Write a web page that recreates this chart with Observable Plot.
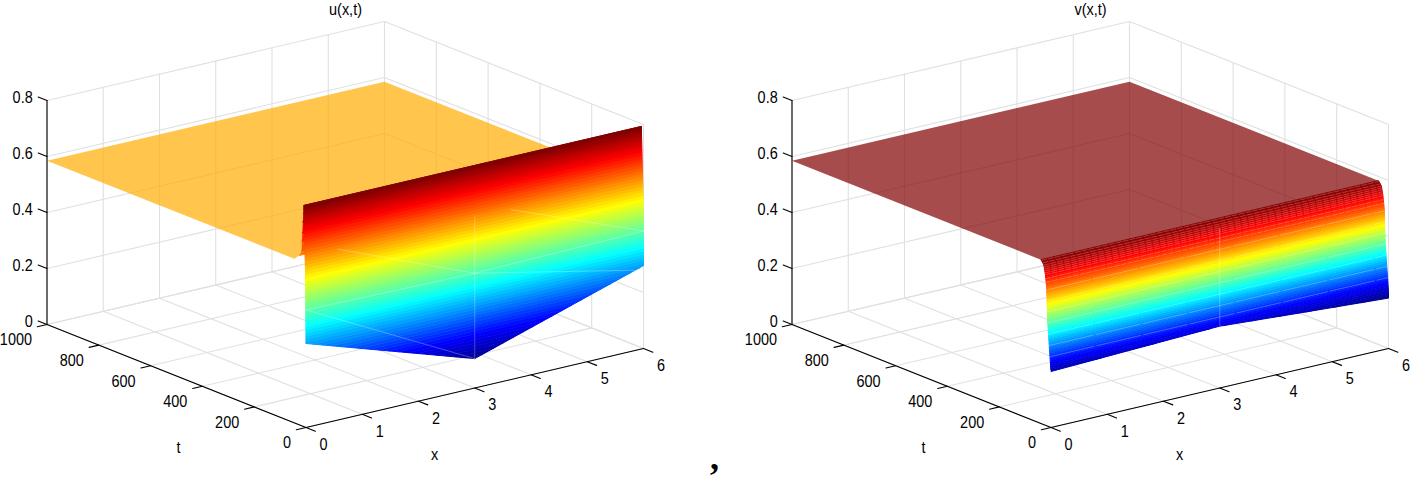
<!DOCTYPE html>
<html><head><meta charset="utf-8">
<script src="https://cdn.jsdelivr.net/npm/d3@7"></script>
<script src="https://cdn.jsdelivr.net/npm/@observablehq/plot@0.6"></script>
<style>html,body{margin:0;padding:0;background:#fff}svg{display:block}</style>
</head><body><div id="chart"></div>
<script>
// axis ticks
const xTicks = [0,1,2,3,4,5,6];
const tTicks = [0,200,400,600,800,1000];
const zTicks = [0,0.2,0.4,0.6,0.8];
const zTickLabels = ["0","0.2","0.4","0.6","0.8"];
const panelTitles = ["u(x,t)","v(x,t)"];
const panelOffsets = [0,745];

// x nodes of the initial-time edge (t = 0)
const edgeX = [0,3,6];
const uEdge = [0.30,0.105,0.296];
const vEdge = [0.20,0.22,0.18];

// the flat plateau outline, read along x = 0 / x = 6
const uPlateauT = [1000,45,26];
const uPlateauZ = [0.585,0.586,0.605];
const vPlateauT = [1000,39];
const vPlateauZ = [0.585,0.585];
// u falls back from its peak to the plateau
const uDecayT = [26,21,16.7,15.5,14,12,10,8.5];
const uDecayZ = [.605,.612,.626,.66,.69,.73,.76,.79];

// the steep wall: height of each colour band and the time it is reached
const uLevels = [.105,.116,.127,.138,.149,.160,.171,.182,.193,.204,.215,.226,.237,.248,.259,.270,.281,.292,.303,.314,.325,.336,.347,.358,.369,.380,.391,.402,.413,.424,.435,.446,.457,.468,.479,.490,.501,.512,.523,.534,.545,.556,.567,.578,.589,.600,.611,.622,.633,.644,.655,.666,.677,.688,.699,.710,.721,.732,.743,.754,.765,.776,.79];
const uTimes  = [0,0,0,0,0,0,0,0,0,0,0,0,0,0,0,0,0,0,0,.1,.2,.3,.3,.4,.5,.6,.7,.8,.9,1,1,1.1,1.2,1.3,1.4,1.5,1.5,1.6,1.7,1.8,1.9,2,2.2,2.5,2.8,3.1,3.4,3.8,4.1,4.4,4.7,5,5.3,5.6,5.9,6.2,6.5,6.9,7.2,7.5,7.8,8.1,8.5];
const vLevels = [.18,.1865,.193,.1995,.206,.2125,.219,.2255,.232,.2385,.245,.2515,.258,.2645,.271,.2775,.284,.2905,.297,.3035,.31,.3165,.323,.3295,.336,.3425,.349,.3555,.362,.3685,.375,.3815,.388,.3945,.401,.4075,.414,.4205,.427,.4335,.44,.4465,.453,.4595,.466,.4725,.479,.4855,.492,.4985,.505,.5115,.518,.5245,.531,.5375,.544,.5505,.557,.5635,.57,.5765,.583,.585];
const vTimes  = [0,0,0,0,.4,.9,1.4,1.9,2.3,2.8,3.3,3.8,4.3,4.7,5.2,5.7,6.2,6.6,7.1,7.6,8.1,8.6,9,9.5,10,10.5,10.9,11.4,11.9,12.4,12.9,13.1,13.4,13.6,13.8,14,14.2,14.4,14.6,14.8,15,15.2,15.4,15.6,15.8,16,16.2,16.4,16.6,17.2,17.9,18.7,19.4,20.1,20.9,21.6,22.6,23.8,25.1,26.4,27.6,31.8,37.3,39];
const uClim = [0.105,0.785];
const vClim = [0.185,0.585];

// faint seams on the u wall, as x,z polylines
const uSeamX = [[3,3],[0,3],[0,3,6],[3,6],[0.57,3],[3.64,6]];
const uSeamZ = [[0.105,0.616],[0.42,0.105],[0.42,0.41,0.42],[0.41,0.28],[0.61,0.41],[0.607,0.42]];
// light seam rows on the v wall (index into vLevels)
const vSeamRows = [11,17,23,29,35,41,47];
const vDenseRows = [51,53,55,56,57,58,59,60,61,62];

const jetStops = [0,.125,.375,.625,.875,1];
const jetColors = ["#00008f","#0000ff","#00ffff","#ffff00","#ff0000","#800000"];

// view: screen vectors of the 3-D box
const origin = [305.5,427], xSpan = [337.5,-79], tSpan = [-259,-103], zSpan = [0,-224];
const P = (x,t,z,off) => [
  origin[0]+x/6*xSpan[0]+t/1000*tSpan[0]+off,
  origin[1]+x/6*xSpan[1]+t/1000*tSpan[1]+z/0.8*zSpan[1]];

let nid = 0;
function poly(rows, pts, off, extra={}) {
  const id = nid++;
  for (const [x,t,z] of pts) { const [px,py]=P(x,t,z,off); rows.push({px,py,id,...extra}); }
}
const grid=[], axes=[], flats=[], bands=[], seams=[], dashed=[], dense=[], textNum=[];

panelOffsets.forEach((off,pi) => {
  // box grid
  for (const x of xTicks) {
    poly(grid,[[x,0,0],[x,1000,0]],off);
    poly(grid,[[x,1000,0],[x,1000,.8]],off);
  }
  for (const t of tTicks) {
    poly(grid,[[0,t,0],[6,t,0]],off);
    poly(grid,[[6,t,0],[6,t,.8]],off);
  }
  for (const z of zTicks) {
    poly(grid,[[0,1000,z],[6,1000,z],[6,0,z]],off);
  }
  // axes and ticks
  poly(axes,[[0,1000,.8],[0,1000,0],[0,0,0],[6,0,0]],off);
  for (const z of zTicks) poly(axes,[[0,1000,z],[0,1034,z]],off);
  for (const t of tTicks) poly(axes,[[0,t,0],[-.172,t,0]],off);
  for (const x of xTicks) poly(axes,[[x,0,0],[x,-36,0]],off);
  zTicks.forEach((z,i)=>{const [px,py]=P(0,1034,z,off); textNum.push({px,py,s:zTickLabels[i],kind:"z"});});
  tTicks.forEach(t=>{const [px,py]=P(0,t,0,off); textNum.push({px,py,s:String(t),kind:"t"});});
  xTicks.forEach(x=>{const [px,py]=P(x,0,0,off); textNum.push({px,py,s:String(x),kind:"x"});});

  const clim = pi?vClim:uClim;
  const frac = z => Math.max(0,Math.min(1,(z-clim[0])/(clim[1]-clim[0])));
  // plateau
  const pt = pi?vPlateauT:uPlateauT, pz = pi?vPlateauZ:uPlateauZ;
  const outline = pt.map((t,i)=>[0,t,pz[i]]).concat(pt.map((t,i)=>[6,t,pz[i]]).reverse());
  poly(flats,outline,off,{frac:frac(pz[0])});
  // colour the fall from the peak back to the plateau
  if(!pi) for(let k=0;k<uDecayT.length-1;k++){
    poly(bands,[[0,uDecayT[k],uDecayZ[k]],[6,uDecayT[k],uDecayZ[k]],[6,uDecayT[k+1],uDecayZ[k+1]],[0,uDecayT[k+1],uDecayZ[k+1]]],off,{frac:frac((uDecayZ[k]+uDecayZ[k+1])/2)});
  }
  // wall, one convex piece per x segment, cut into constant-height colour bands
  const lv = pi?vLevels:uLevels, tm = pi?vTimes:uTimes, edge = pi?vEdge:uEdge;
  const top = lv[lv.length-1];
  const cut = (p,keep,limit) => {
    const out=[];
    p.forEach((a,i)=>{
      const b=p[(i+1)%p.length];
      if(keep(a[1])) out.push(a);
      if(keep(a[1])!==keep(b[1])) out.push([a[0]+(b[0]-a[0])*(limit-a[1])/(b[1]-a[1]),limit]);
    });
    return out;
  };
  for (let s=0;s<edgeX.length-1;s++){
    const wall=[[edgeX[s],edge[s]],[edgeX[s+1],edge[s+1]],[edgeX[s+1],top],[edgeX[s],top]];
    for (let k=0;k<lv.length-1;k++){
      const lo=lv[k],hi=lv[k+1];
      if(hi<=Math.min(edge[s],edge[s+1])) continue;
      let p=cut(wall,z=>z>=lo,lo);
      p=cut(p,z=>z<=hi,hi);
      if(p.length<3) continue;
      poly(bands,p.map(([x,z])=>[x,z>=hi?tm[k+1]:tm[k],z]),off,{frac:frac((lo+hi)/2)});
    }
  }
  // seams
  if(!pi){
    uSeamX.forEach((xs,i)=>poly(seams,xs.map((x,j)=>[x,uTimes[0],uSeamZ[i][j]]),off));
  } else {
    poly(seams,[[3,0,vEdge[1]],[3,0,.57]],off);
    for(const r of vSeamRows) poly(dashed,[[0,vTimes[r],vLevels[r]],[6,vTimes[r],vLevels[r]]],off);
    for(const r of vDenseRows) poly(dense,[[0,vTimes[r],vLevels[r]],[6,vTimes[r],vLevels[r]]],off);
  }
});

const labelFont = {fontFamily:"'Liberation Sans',Arial,sans-serif",fontSize:17,fill:"#000"};
const titles = panelOffsets.map((off,i)=>({px:345+off,py:9,s:panelTitles[i]}));
const axisLetters = panelOffsets.flatMap(off=>[{px:178+off,py:447,s:"t"},{px:434+off,py:454,s:"x"}]);

const svg = Plot.plot({
  width:1410,height:477,margin:0,
  x:{domain:[0,1410],range:[0,1410],axis:null},
  y:{domain:[0,477],range:[0,477],axis:null},
  color:{type:"linear",domain:jetStops,range:jetColors,interpolate:"rgb"},
  style:{background:"#fff"},
  marks:[
    Plot.line(grid,{x:"px",y:"py",z:"id",stroke:"#e0e0e0",strokeWidth:1.1,curve:"linear"}),
    Plot.line(flats,{x:"px",y:"py",z:"id",fill:"frac",fillOpacity:.7,stroke:"none",curve:"linear"}),
    Plot.line(bands,{x:"px",y:"py",z:"id",fill:"frac",stroke:"frac",strokeWidth:1,strokeLinejoin:"round",curve:"linear"}),
    Plot.line(seams,{x:"px",y:"py",z:"id",stroke:"#fff",strokeOpacity:.35,strokeWidth:.8,curve:"linear"}),
    Plot.line(dashed,{x:"px",y:"py",z:"id",stroke:"#fff",strokeOpacity:.3,strokeWidth:.8,strokeDasharray:"45,3",curve:"linear"}),
    Plot.line(dense,{x:"px",y:"py",z:"id",stroke:"#fff",strokeOpacity:.3,strokeWidth:.7,strokeDasharray:"5,2",curve:"linear"}),
    Plot.line(axes,{x:"px",y:"py",z:"id",stroke:"#000",strokeWidth:1.1,curve:"linear"}),
    Plot.text(textNum.filter(d=>d.kind==="z"),{x:"px",y:"py",text:"s",textAnchor:"end",dx:-5.5,dy:.5,...labelFont}),
    Plot.text(textNum.filter(d=>d.kind==="t"),{x:"px",y:"py",text:"s",textAnchor:"end",dx:-15,dy:15.5,...labelFont}),
    Plot.text(textNum.filter(d=>d.kind==="x"),{x:"px",y:"py",text:"s",dx:17.5,dy:17,...labelFont}),
    Plot.text(titles,{x:"px",y:"py",text:"s",...labelFont}),
    Plot.text(axisLetters,{x:"px",y:"py",text:"s",...labelFont}),
    Plot.text([","],{x:[714],y:[457],text:d=>d,fontFamily:"'Liberation Serif',serif",fontWeight:"bold",fontSize:36,fill:"#000"})
  ]
});
// the reference's lettering is a horizontally condensed sans
svg.querySelectorAll("text").forEach(el=>{
  if(el.textContent===",") return;
  el.setAttribute("transform",(el.getAttribute("transform")||"")+" scale(0.85,1)");
});
document.getElementById("chart").appendChild(svg);
</script>
</body></html>
